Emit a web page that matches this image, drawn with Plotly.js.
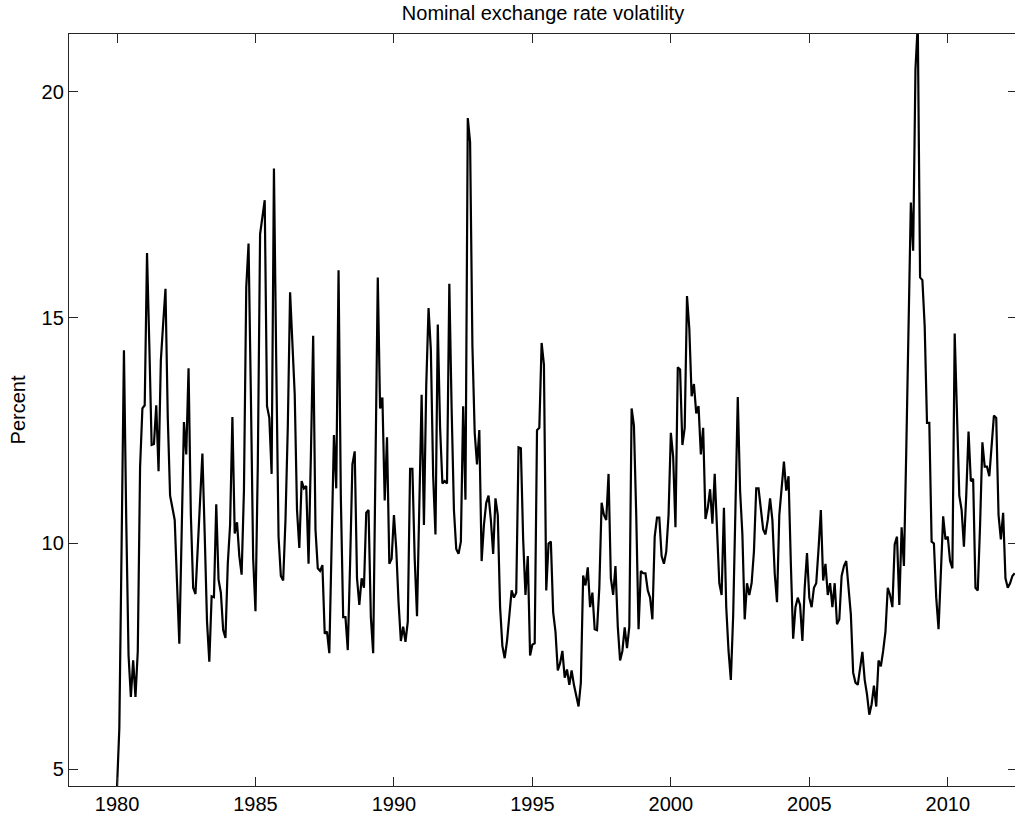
<!DOCTYPE html>
<html>
<head>
<meta charset="utf-8">
<script src="https://cdn.plot.ly/plotly-3.0.1.min.js"></script>
<style>
html, body { margin: 0; padding: 0; overflow: hidden; background: #fff; }
#chart { width: 1025px; height: 821px; }
</style>
</head>
<body>
<div id="chart"></div>
<script>
// Monthly series, first observation January 1980
const startYear = 1980;
const periodsPerYear = 12;

const volatility = [
  4.6, 5.91, 10.0, 14.28, 10.5, 7.52, 6.6, 7.41, 6.6, 7.62, 11.7, 12.99,
  13.06, 16.43, 14.4, 12.18, 12.2, 13.06, 11.6, 14.06, 14.87, 15.64, 12.78, 11.06,
  10.79, 10.52, 9.13, 7.78, 10.2, 12.69, 11.97, 13.88, 10.63, 9.02, 8.88, 9.98,
  11.06, 11.99, 10.2, 8.27, 7.38, 8.83, 8.81, 10.87, 9.2, 8.91, 8.08, 7.91,
  9.55, 10.41, 12.8, 10.22, 10.47, 9.72, 9.31, 11.17, 15.67, 16.64, 13.31, 9.66,
  8.5, 11.7, 16.85, 17.23, 17.6, 13.04, 12.78, 11.54, 18.3, 14.0, 10.15, 9.28,
  9.18, 10.52, 12.56, 15.56, 14.49, 13.31, 10.74, 9.9, 11.38, 11.22, 11.27, 9.55,
  11.92, 14.6, 10.31, 9.45, 9.39, 9.52, 8.0, 8.05, 7.57, 10.2, 12.4, 11.22,
  16.05, 11.0, 8.37, 8.37, 7.64, 9.55, 11.75, 12.04, 9.23, 8.64, 9.23, 9.02,
  10.68, 10.74, 8.37, 7.57, 11.7, 15.89, 12.99, 13.23, 10.95, 12.35, 9.55, 9.66,
  10.63, 9.88, 8.7, 7.84, 8.16, 7.82, 8.27, 11.65, 11.65, 9.66, 8.39, 10.57,
  13.29, 10.41, 13.5, 15.21, 14.28, 11.49, 10.2, 14.85, 12.56, 11.33, 11.38, 11.33,
  15.75, 12.99, 10.74, 9.88, 9.77, 10.04, 13.04, 10.97, 19.42, 18.89, 14.39, 12.45,
  11.75, 12.51, 9.61, 10.41, 10.9, 11.06, 10.52, 9.77, 11.0, 10.63, 8.59, 7.73,
  7.46, 7.84, 8.48, 8.96, 8.8, 8.91, 12.13, 12.11, 10.09, 8.86, 9.72, 7.52,
  7.76, 7.79, 12.51, 12.56, 14.44, 13.96, 8.96, 10.0, 10.04, 8.48, 8.05, 7.19,
  7.35, 7.62, 7.03, 7.21, 6.87, 7.19, 6.87, 6.6, 6.39, 6.92, 9.29, 9.07,
  9.47, 8.59, 8.91, 8.1, 8.08, 9.02, 10.9, 10.63, 10.52, 11.54, 9.23, 8.86,
  9.5, 8.16, 7.41, 7.62, 8.14, 7.68, 8.16, 12.99, 12.61, 10.63, 8.1, 9.39,
  9.34, 9.34, 8.96, 8.8, 8.32, 10.15, 10.57, 10.57, 9.72, 9.55, 9.82, 10.63,
  12.45, 11.92, 10.36, 13.9, 13.85, 12.18, 12.56, 15.48, 14.76, 13.26, 13.53, 12.88,
  13.04, 11.97, 12.56, 10.54, 10.79, 11.2, 10.44, 11.54, 10.31, 9.12, 8.86, 10.79,
  8.59, 7.62, 6.98, 8.4, 10.8, 13.24, 11.17, 10.2, 8.32, 9.12, 8.86, 9.12,
  9.82, 11.22, 11.22, 10.74, 10.31, 10.2, 10.52, 11.0, 10.52, 9.34, 8.7, 10.63,
  11.27, 11.81, 11.17, 11.49, 9.55, 7.89, 8.59, 8.8, 8.64, 7.84, 9.02, 9.79,
  8.8, 8.59, 9.02, 9.12, 9.88, 10.74, 9.18, 9.55, 8.86, 9.12, 8.59, 9.12,
  8.21, 8.32, 9.28, 9.5, 9.61, 9.02, 8.43, 7.14, 6.92, 6.87, 7.3, 7.6,
  6.98, 6.66, 6.21, 6.44, 6.85, 6.39, 7.41, 7.28, 7.62, 8.05, 9.02, 8.86,
  8.59, 9.98, 10.15, 8.64, 10.36, 9.5, 12.02, 14.71, 17.55, 16.48, 20.5, 21.5,
  15.89, 15.83, 14.81, 12.67, 12.67, 10.04, 10.0, 8.8, 8.1, 9.34, 10.6, 10.09,
  10.15, 9.61, 9.45, 14.65, 12.78, 11.06, 10.74, 9.93, 11.06, 12.48, 11.38, 11.43,
  9.02, 8.96, 10.41, 12.24, 11.7, 11.7, 11.49, 12.18, 12.83, 12.78, 10.63, 10.09,
  10.68, 9.23, 9.02, 9.12, 9.28, 9.34
];

const xTickVals = [1980, 1985, 1990, 1995, 2000, 2005, 2010];
const xTickText = ['1980', '1985', '1990', '1995', '2000', '2005', '2010'];
const yTickVals = [5, 10, 15, 20];
const yTickText = ['5', '10', '15', '20'];

const chartTitle = 'Nominal exchange rate volatility';
const yAxisTitle = 'Percent';

const dates = volatility.map((v, i) => startYear + i / periodsPerYear);

const font = 'Liberation Sans, Arial, Helvetica, sans-serif';
const axisColor = '#262626';

const trace = {
  x: dates,
  y: volatility,
  type: 'scatter',
  mode: 'lines',
  line: { color: '#000000', width: 2.2 },
  hoverinfo: 'x+y'
};

const layout = {
  width: 1025,
  height: 821,
  margin: { l: 69, r: 8, t: 34, b: 35, pad: 0 },
  paper_bgcolor: '#ffffff',
  plot_bgcolor: '#ffffff',
  showlegend: false,
  font: { family: font, size: 20, color: '#000000' },
  title: {
    text: chartTitle,
    font: { family: font, size: 20, color: '#000000' },
    xref: 'paper', x: 0.5, xanchor: 'center',
    yref: 'container', y: 1 - 13 / 821, yanchor: 'middle'
  },
  xaxis: {
    range: [1978.266, 2012.50],
    tickmode: 'array',
    tickvals: xTickVals,
    ticktext: xTickText,
    ticks: 'inside',
    ticklen: 9,
    tickwidth: 1,
    tickcolor: axisColor,
    showline: true,
    linecolor: axisColor,
    linewidth: 1.2,
    mirror: 'ticks',
    showgrid: false,
    zeroline: false,
    tickfont: { family: font, size: 20, color: '#000000' },
    fixedrange: true
  },
  yaxis: {
    range: [4.63, 21.28],
    tickmode: 'array',
    tickvals: yTickVals,
    ticktext: yTickText,
    ticks: 'inside',
    ticklen: 9,
    tickwidth: 1,
    tickcolor: axisColor,
    showline: true,
    linecolor: axisColor,
    linewidth: 1.2,
    mirror: 'ticks',
    showgrid: false,
    zeroline: false,
    tickfont: { family: font, size: 20, color: '#000000' },
    title: { text: yAxisTitle, font: { family: font, size: 20, color: '#000000' }, standoff: 10 },
    fixedrange: true
  }
};

Plotly.newPlot('chart', [trace], layout, { staticPlot: true, displayModeBar: false });
</script>
</body>
</html>
